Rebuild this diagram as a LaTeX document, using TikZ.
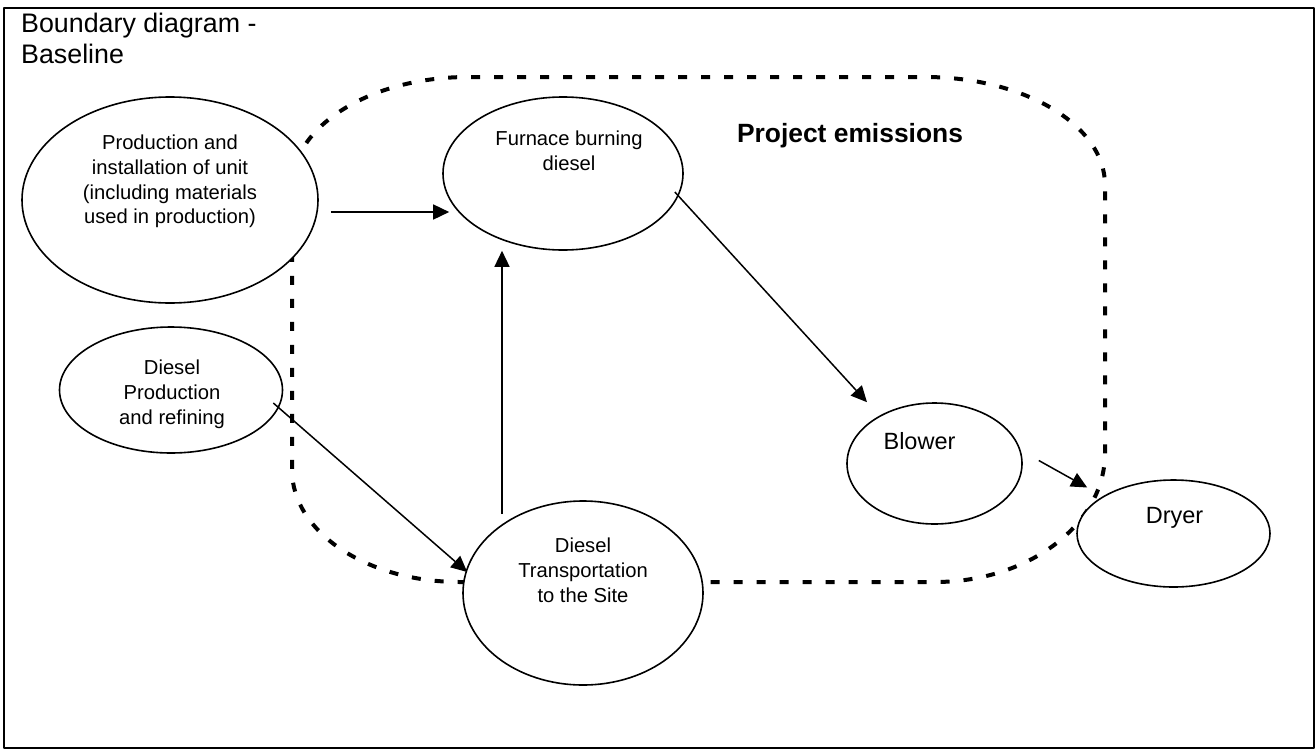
\documentclass[tikz,border=0pt]{standalone}
\usepackage{fontspec}
\setmainfont{Liberation Sans}
\usetikzlibrary{arrows.meta,shapes.geometric}

\begin{document}
\begin{tikzpicture}[x=1pt,y=-1pt,line join=round,
  ell/.style={draw,ellipse,fill=white,line width=1.6pt,inner sep=0pt},
  txt/.style={align=center,inner sep=0pt,font=\fontsize{20.2}{24.8}\selectfont},
  bigtxt/.style={align=center,inner sep=0pt,font=\fontsize{23.5}{28}\selectfont},
  arr/.style={-{Triangle[length=16pt,width=15pt]},line width=1.5pt},
  boundary/.style={line width=4pt,dash pattern=on 9pt off 14pt}]
\useasboundingbox (0,0) rectangle (1316,750);
\draw[line width=2pt] (4,8) rectangle (1314,748);
\node[anchor=north west,align=left,inner sep=0pt,font=\fontsize{26.8}{31}\selectfont] (title) at (21,12.5) {Boundary diagram -\\Baseline};

% project boundary
\draw[boundary] (292,186) .. controls (292,126) and (371,77) .. (468,77) -- (925,77)
  .. controls (1024,77) and (1105,125) .. (1105,185) -- (1105,453)
  .. controls (1105,524) and (1029,582) .. (935,582) -- (460,582)
  .. controls (367,582) and (292,532) .. (292,470) -- cycle;
\node[anchor=base,inner sep=0pt,font=\fontsize{26.4}{31}\selectfont\bfseries] (proj) at (850,142) {Project emissions};

% ellipses
\node[ell,minimum width=296pt,minimum height=206pt] (prod) at (170,200) {};
\node[ell,minimum width=240pt,minimum height=153pt] (furn) at (563,173.5) {};
\node[ell,minimum width=223pt,minimum height=126pt] (dprod) at (171,390) {};
\node[ell,minimum width=240pt,minimum height=184pt] (trans) at (583,593) {};
\node[ell,minimum width=175pt,minimum height=121pt] (blow) at (934.5,463.5) {};
\node[ell,minimum width=193pt,minimum height=107pt] (dry) at (1173.5,533.5) {};

\node[txt] (prod-t) at ([shift={(0,-18.5)}]prod.center) {Production and\\installation of unit\\(including materials\\used in production)};
\node[txt] (furn-t) at ([shift={(6,-23)}]furn.center) {Furnace burning\\diesel};
\node[txt] (dprod-t) at ([shift={(1,4)}]dprod.center) {Diesel\\Production\\and refining};
\node[txt] (trans-t) at ([shift={(0,-23)}]trans.center) {Diesel\\Transportation\\to the Site};
\node[bigtxt] (blow-t) at ([shift={(-15,-22)}]blow.center) {Blower};
\node[bigtxt] (dry-t) at ([shift={(1,-16)}]dry.center) {Dryer};

% flows
\draw[arr] ([shift={(12,12)}]prod.east) -- ([shift={(7,38.5)}]furn.west);
\draw[arr] ([shift={(-81,14)}]trans.north) -- ([shift={(-61,0)}]furn.south);
\draw[arr] ([shift={(-10,13)}]dprod.east) -- ([shift={(5,-21)}]trans.west);
\draw[arr] ([shift={(-9,18.5)}]furn.east) -- ([shift={(-67.5,0)}]blow.north);
\draw[arr] ([shift={(16,-3)}]blow.east) -- ([shift={(11,-46)}]dry.west);
\end{tikzpicture}
\end{document}
